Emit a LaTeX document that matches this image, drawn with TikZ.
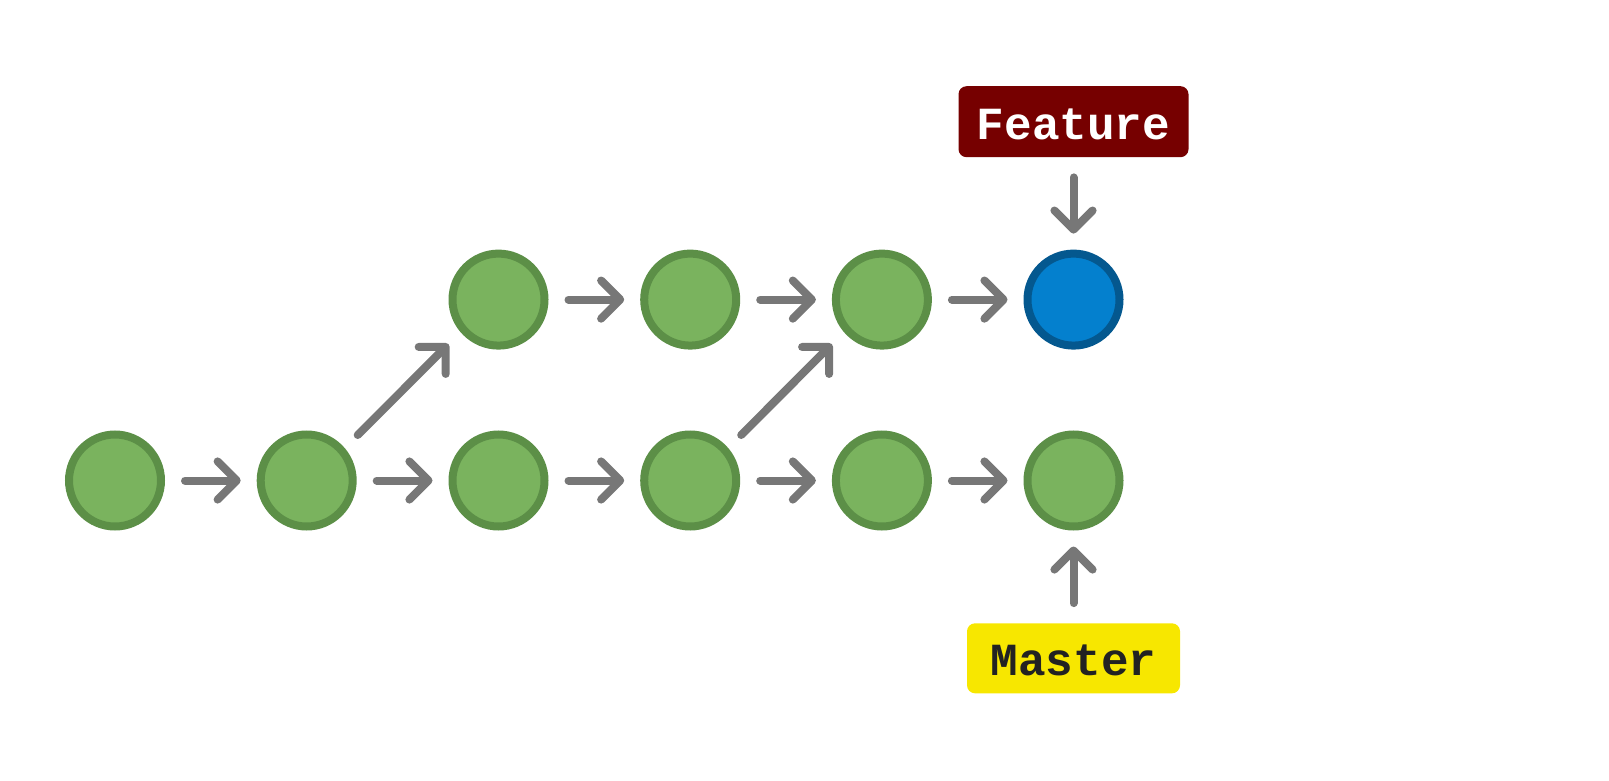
\documentclass[tikz,border=0pt]{standalone}
\usepackage{fontspec}
\newfontfamily\labelfont{Liberation Mono}
\usetikzlibrary{arrows.meta}
\definecolor{commitfill}{HTML}{7AB35E}
\definecolor{commitline}{HTML}{5C8F47}
\definecolor{headfill}{HTML}{0480CE}
\definecolor{headline}{HTML}{04588F}
\definecolor{featurebg}{HTML}{760000}
\definecolor{masterbg}{HTML}{F7E700}
\definecolor{masterfg}{HTML}{222222}
\definecolor{linkgray}{HTML}{777777}
\begin{document}
\begin{tikzpicture}[x=1pt,y=-1pt,
  commit/.style={circle,draw=commitline,fill=commitfill,line width=8pt,
    minimum size=92pt,inner sep=0pt},
  headcommit/.style={commit,draw=headline,fill=headfill},
  link/.style={draw=linkgray,line width=8pt,line cap=round,line join=round,
    -{Straight Barb[angle=90:27pt,round]},shorten <=20pt,shorten >=16pt},
  branchlabel/.style={rounded corners=8pt,inner sep=0pt,
    text height=35pt,text depth=0pt,
    font=\labelfont\bfseries\fontsize{46}{46}\selectfont}]
  \useasboundingbox (0,0) rectangle (1609,781);

  % master line
  \node[commit] (m1) at (115,480.5) {};
  \node[commit] (m2) at (306.7,480.5) {};
  \node[commit] (m3) at (498.5,480.5) {};
  \node[commit] (m4) at (690.2,480.5) {};
  \node[commit] (m5) at (881.9,480.5) {};
  \node[commit] (m6) at (1073.5,480.5) {};

  % feature line
  \node[commit] (f1) at (498.5,299.6) {};
  \node[commit] (f2) at (690.2,299.6) {};
  \node[commit] (f3) at (881.9,299.6) {};
  \node[headcommit] (f4) at (1073.5,299.6) {};

  % branch pointers
  \node[branchlabel,fill=featurebg,text=white,minimum width=230pt,minimum height=71pt]
    (feature) at (1073.5,121.7) {Feature};
  \node[branchlabel,fill=masterbg,text=masterfg,minimum width=213pt,minimum height=70pt]
    (master) at (1073.5,658.3) {Master};

  % commit history
  \path[link] (m1) -- (m2);
  \path[link] (m2) -- (m3);
  \path[link] (m3) -- (m4);
  \path[link] (m4) -- (m5);
  \path[link] (m5) -- (m6);
  \path[link] (f1) -- (f2);
  \path[link] (f2) -- (f3);
  \path[link] (f3) -- (f4);

  % branch-offs at 45 degrees
  \path[link,shorten <=0pt,shorten >=0pt]
    ([shift={(51,-45.5)}]m2.center) -- ([shift={(-50,44.5)}]f1.center);
  \path[link,shorten <=0pt,shorten >=0pt]
    ([shift={(51,-45.5)}]m4.center) -- ([shift={(-50,44.5)}]f3.center);

  % branch heads
  \path[link] (feature) -- (f4);
  \path[link] (master) -- (m6);
\end{tikzpicture}
\end{document}
